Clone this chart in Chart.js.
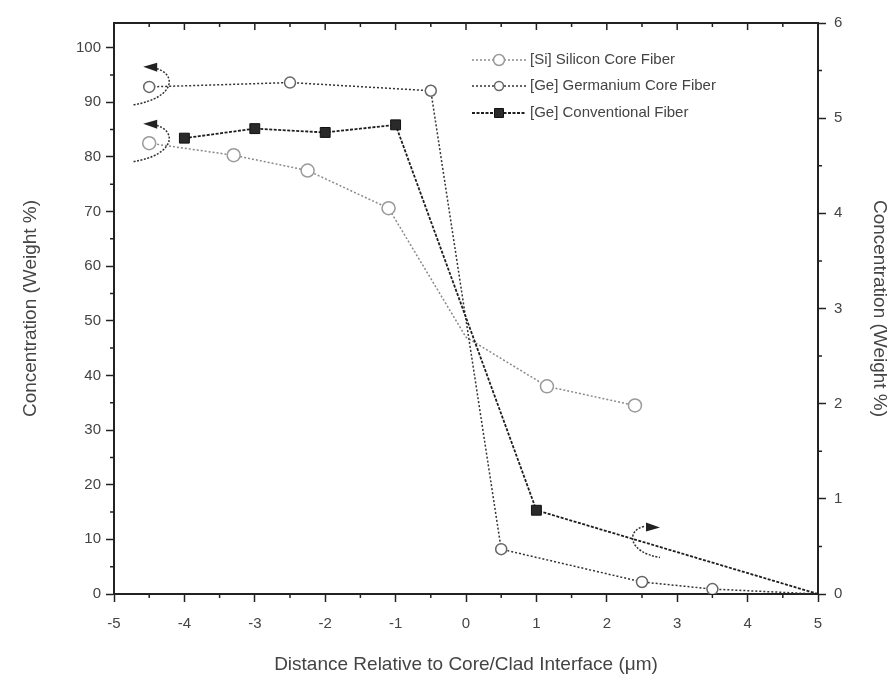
<!DOCTYPE html>
<html>
<head>
<meta charset="utf-8">
<script src="https://cdn.jsdelivr.net/npm/chart.js@4.4.0/dist/chart.umd.min.js"></script>
<style>
  html, body { margin: 0; padding: 0; background: #fff; }
  #wrap { width: 895px; height: 683px; }
</style>
</head>
<body>
<div id="wrap"><canvas id="chart" width="895" height="683"></canvas></div>
<script>
// distance (um) / concentration (weight %)
const siCoreX = [-4.5, -3.3, -2.25, -1.1, 0, 1.15, 2.4];
const siCoreY = [82.5, 80.3, 77.5, 70.6, 47, 38, 34.5];

const geCoreX = [-4.5, -2.5, -0.5, 0.5, 2.5, 3.5, 5];
const geCoreY = [92.8, 93.6, 92.1, 8.2, 2.2, 0.9, 0];

// conventional fiber is read on the right axis
const geConvX = [-4, -3, -2, -1, 1, 5];
const geConvY = [4.79, 4.89, 4.85, 4.93, 0.88, 0];

const seriesLabels = ['[Si] Silicon Core Fiber', '[Ge] Germanium Core Fiber', '[Ge] Conventional Fiber'];
const xRange = [-5, 5];
const leftRange = [0, 104.5];
const rightRange = [0, 6];

const FONT = "'Liberation Sans', Arial, sans-serif";
const INK = '#222';
const TEXT = '#444';

function pts(xs, ys) {
    return xs.map(function (x, i) { return { x: x, y: ys[i] }; });
}

// no marker where a curve only runs into the axis or through the crossing
function markerRadius(r, hideAt) {
    return function (c) {
        return c.raw && hideAt.indexOf(c.raw.x) >= 0 ? 0 : r;
    };
}

// minor ticks, top frame, legend and the little axis arrows
const decorPlugin = {
    id: 'decor',
    afterDraw: function (chart) {
        const ctx = chart.ctx;
        const area = chart.chartArea;
        const sx = chart.scales.x, sy = chart.scales.y, sy2 = chart.scales.y2;

        function mids(scale) {
            const v = scale.ticks.map(function (t) { return t.value; });
            const out = [];
            for (let i = 0; i < v.length - 1; i++) out.push((v[i] + v[i + 1]) / 2);
            return out;
        }

        ctx.save();
        ctx.strokeStyle = INK;
        ctx.lineWidth = 1.5;
        ctx.beginPath();
        mids(sx).forEach(function (v) {
            const p = sx.getPixelForValue(v);
            ctx.moveTo(p, area.bottom); ctx.lineTo(p, area.bottom + 4);
            ctx.moveTo(p, area.top); ctx.lineTo(p, area.top + 4);
        });
        sx.ticks.forEach(function (t) {
            const p = sx.getPixelForValue(t.value);
            ctx.moveTo(p, area.top); ctx.lineTo(p, area.top + 7);
        });
        mids(sy).forEach(function (v) {
            const p = sy.getPixelForValue(v);
            ctx.moveTo(area.left, p); ctx.lineTo(area.left - 4, p);
        });
        mids(sy2).forEach(function (v) {
            const p = sy2.getPixelForValue(v);
            ctx.moveTo(area.right, p); ctx.lineTo(area.right + 4, p);
        });
        ctx.stroke();

        // top frame
        ctx.lineWidth = 2;
        ctx.beginPath();
        ctx.moveTo(area.left - 1, area.top);
        ctx.lineTo(area.right + 1, area.top);
        ctx.stroke();

        // curved arrows telling which axis a curve belongs to
        function arrow(px, py, dir) {
            ctx.strokeStyle = '#333';
            ctx.fillStyle = '#222';
            ctx.lineWidth = 1.5;
            ctx.setLineDash([2, 1.5]);
            ctx.beginPath();
            if (dir < 0) {
                ctx.moveTo(px + 4, py - 18);
                ctx.bezierCurveTo(px + 28, py - 14, px + 28, py + 12, px - 16, py + 19);
            } else {
                ctx.moveTo(px + 2, py - 14);
                ctx.bezierCurveTo(px - 16, py - 10, px - 14, py + 12, px + 18, py + 17);
            }
            ctx.stroke();
            ctx.setLineDash([]);
            ctx.beginPath();
            if (dir < 0) {
                ctx.moveTo(px - 6, py - 19);
                ctx.lineTo(px + 8, py - 23);
                ctx.lineTo(px + 8, py - 14);
            } else {
                ctx.moveTo(px + 18, py - 13);
                ctx.lineTo(px + 4, py - 18);
                ctx.lineTo(px + 4, py - 9);
            }
            ctx.closePath();
            ctx.fill();
        }
        arrow(sx.getPixelForValue(-4.5), sy.getPixelForValue(93), -1);
        arrow(sx.getPixelForValue(-4.5), sy.getPixelForValue(82.6), -1);
        arrow(sx.getPixelForValue(2.5), sy.getPixelForValue(9.8), 1);

        // legend
        const lx = area.left + 358;
        const rowY = [area.top + 37, area.top + 63, area.top + 90];
        chart.data.datasets.forEach(function (ds, i) {
            const y = rowY[i];
            ctx.strokeStyle = ds.borderColor;
            ctx.lineWidth = ds.borderWidth;
            ctx.setLineDash(ds.borderDash || []);
            ctx.beginPath();
            ctx.moveTo(lx, y); ctx.lineTo(lx + 54, y);
            ctx.stroke();
            ctx.setLineDash([]);
            const r = ds.legendRadius;
            ctx.lineWidth = ds.pointBorderWidth;
            ctx.strokeStyle = ds.pointBorderColor;
            ctx.fillStyle = ds.pointBackgroundColor;
            ctx.beginPath();
            if (ds.pointStyle === 'rect') {
                ctx.rect(lx + 27 - r, y - r, r * 2, r * 2);
            } else {
                ctx.arc(lx + 27, y, r, 0, Math.PI * 2);
            }
            ctx.fill(); ctx.stroke();
            ctx.fillStyle = TEXT;
            ctx.font = '15px ' + FONT;
            ctx.textBaseline = 'middle';
            ctx.textAlign = 'left';
            ctx.fillText(ds.label, lx + 58, y);
        });
        ctx.restore();
    }
};

function axisStyle() {
    return {
        grid: { drawOnChartArea: false, drawTicks: true, tickLength: 8, color: INK, tickWidth: 1.5 },
        border: { display: true, color: INK, width: 2 },
        ticks: { color: TEXT, font: { family: FONT, size: 15 } }
    };
}

const xAxis = axisStyle();
xAxis.type = 'linear';
xAxis.min = xRange[0];
xAxis.max = xRange[1];
xAxis.ticks.stepSize = 1;
xAxis.ticks.padding = 13;
xAxis.ticks.maxRotation = 0;
xAxis.title = { display: true, text: 'Distance Relative to Core/Clad Interface (\u03bcm)', color: TEXT,
    font: { family: FONT, size: 19 }, padding: { top: 0, bottom: 7 } };
xAxis.afterFit = function (scale) { scale.height = 89; };

const yAxis = axisStyle();
yAxis.position = 'left';
yAxis.min = leftRange[0];
yAxis.max = leftRange[1];
yAxis.ticks.stepSize = 10;
yAxis.ticks.padding = 5;
yAxis.afterBuildTicks = function (scale) {
    scale.ticks = scale.ticks.filter(function (t) { return t.value % 10 === 0; });
};
yAxis.title = { display: true, text: 'Concentration (Weight %)', color: TEXT,
    font: { family: FONT, size: 19 }, padding: { top: 19, bottom: 0 } };
yAxis.afterFit = function (scale) { scale.width = 114; };

const y2Axis = axisStyle();
y2Axis.position = 'right';
y2Axis.min = rightRange[0];
y2Axis.max = rightRange[1];
y2Axis.ticks.stepSize = 1;
y2Axis.ticks.padding = 8;
y2Axis.title = { display: true, text: 'Concentration (Weight %)', color: TEXT,
    font: { family: FONT, size: 19 }, padding: { top: 4, bottom: 0 } };
y2Axis.afterFit = function (scale) { scale.width = 77; };

new Chart(document.getElementById('chart').getContext('2d'), {
    type: 'line',
    data: {
        datasets: [{
            label: seriesLabels[0],
            data: pts(siCoreX, siCoreY),
            yAxisID: 'y',
            borderColor: '#8a8a8a',
            borderWidth: 1.5,
            borderDash: [2, 2],
            pointStyle: 'circle',
            pointRadius: markerRadius(6.5, [0]),
            legendRadius: 5.5,
            pointBorderWidth: 1.5,
            pointBorderColor: '#9a9a9a',
            pointBackgroundColor: '#fff',
            order: 3
        }, {
            label: seriesLabels[1],
            data: pts(geCoreX, geCoreY),
            yAxisID: 'y',
            borderColor: '#333',
            borderWidth: 1.5,
            borderDash: [2, 2],
            pointStyle: 'circle',
            pointRadius: markerRadius(5.5, [5]),
            legendRadius: 4.5,
            pointBorderWidth: 1.5,
            pointBorderColor: '#666',
            pointBackgroundColor: '#fff',
            order: 2
        }, {
            label: seriesLabels[2],
            data: pts(geConvX, geConvY),
            yAxisID: 'y2',
            borderColor: '#1e1e1e',
            borderWidth: 1.8,
            borderDash: [3, 1.5],
            pointStyle: 'rect',
            pointRadius: markerRadius(7, [5]),
            legendRadius: 4.5,
            pointBorderWidth: 1,
            pointBorderColor: '#111',
            pointBackgroundColor: '#2a2a2a',
            order: 1
        }]
    },
    options: {
        responsive: false,
        animation: false,
        layout: { padding: { top: 23, right: 0, bottom: 0, left: 0 } },
        elements: { line: { tension: 0 } },
        plugins: {
            legend: { display: false },
            tooltip: { enabled: false }
        },
        scales: { x: xAxis, y: yAxis, y2: y2Axis }
    },
    plugins: [decorPlugin]
});
</script>
</body>
</html>
